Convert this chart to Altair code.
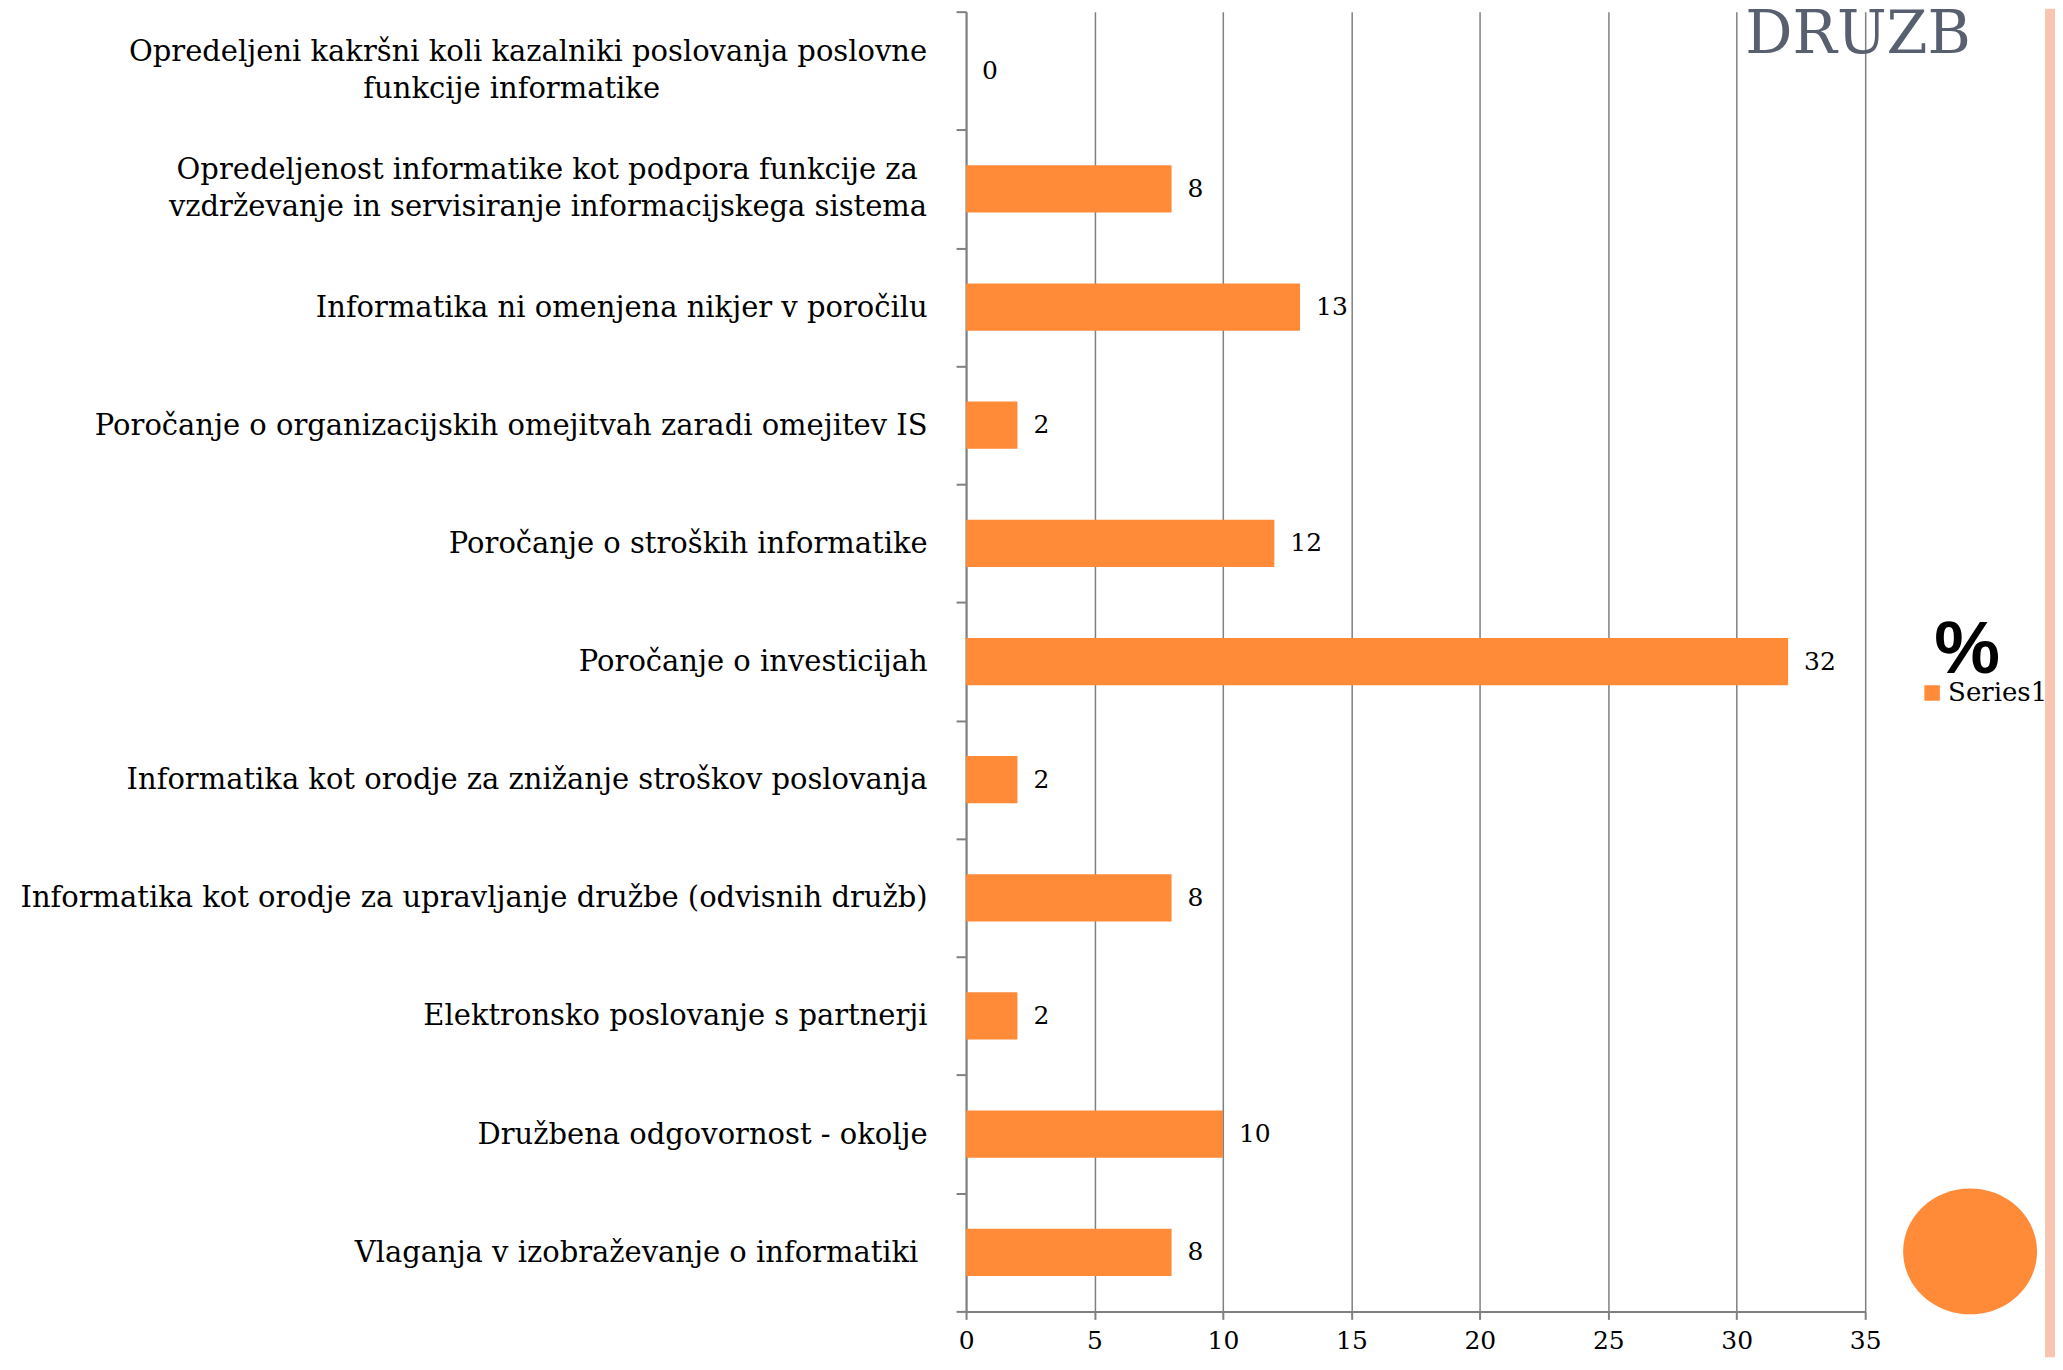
import altair as alt
import pandas as pd

NB = "\u00a0"
ZW = "\u200b"
categories = [
    "Opredeljeni kakršni koli kazalniki poslovanja poslovne|funkcije informatike" + NB * 29 + ZW,
    "Opredeljenost informatike kot podpora funkcije za" + NB + ZW + "|vzdrževanje in servisiranje informacijskega sistema",
    "Informatika ni omenjena nikjer v poročilu",
    "Poročanje o organizacijskih omejitvah zaradi omejitev IS",
    "Poročanje o stroških informatike",
    "Poročanje o investicijah",
    "Informatika kot orodje za znižanje stroškov poslovanja",
    "Informatika kot orodje za upravljanje družbe (odvisnih družb)",
    "Elektronsko poslovanje s partnerji",
    "Družbena odgovornost - okolje",
    "Vlaganja v izobraževanje o informatiki" + NB + ZW,
]
values = [0, 8, 13, 2, 12, 32, 2, 8, 2, 10, 8]
series = ["Series1"] * len(categories)
x_ticks = [0, 5, 10, 15, 20, 25, 30, 35]
heading = "DRUZB"
legend_title = "%"

ORANGE = "#FF8A38"
GRAY = "#808080"
SERIF = "DejaVu Serif"

df = pd.DataFrame({"cat": categories, "val": values, "series": series})
df["multi"] = df["cat"].str.contains("|", regex=False)

y_enc = alt.Y(
    "cat:N",
    sort=categories,
    scale=alt.Scale(paddingInner=0, paddingOuter=0),
    axis=alt.Axis(
        title=None,
        labelExpr="indexof(datum.label, '|') >= 0 ? '' : datum.label",
        labelFont=SERIF,
        labelFontSize=29,
        labelColor="black",
        labelPadding=29,
        labelLimit=0,
        tickBand="extent",
        tickSize=10,
        tickWidth=2,
        tickColor=GRAY,
        domainColor=GRAY,
        domainWidth=2,
        grid=False,
    ),
)
x_enc = alt.X(
    "val:Q",
    scale=alt.Scale(domain=[0, 35], nice=False),
    axis=alt.Axis(
        title=None,
        values=x_ticks,
        labelFont=SERIF,
        labelFontSize=25,
        labelColor="black",
        labelPadding=9,
        labelFlush=False,
        tickSize=8,
        tickWidth=2,
        tickColor=GRAY,
        domainColor=GRAY,
        domainWidth=2,
        grid=True,
        gridColor=GRAY,
        gridWidth=1.5,
    ),
)

bars = alt.Chart(df).mark_bar(height=alt.RelativeBandSize(0.4)).encode(
    y=y_enc,
    x=x_enc,
    color=alt.Color(
        "series:N",
        scale=alt.Scale(range=[ORANGE]),
        legend=alt.Legend(
            title=None,
            orient="none",
            legendX=954,
            legendY=669,
            labelFont=SERIF,
            labelFontSize=26,
            labelColor="black",
            labelOffset=3,
            symbolType="square",
            symbolSize=240,
            symbolStrokeWidth=0,
            padding=0,
        ),
    ),
)

labels = alt.Chart(df).mark_text(
    align="left", baseline="middle", dx=16, font=SERIF, fontSize=25, color="black"
).encode(y=alt.Y("cat:N", sort=categories), x="val:Q", text="val:Q")

multi_labels = alt.Chart(df).transform_filter("datum.multi").mark_text(
    align="right", baseline="middle", dy=-18.5, lineBreak="|", lineHeight=37,
    font=SERIF, fontSize=29, color="black"
).encode(y=alt.Y("cat:N", sort=categories), x=alt.value(-39), text="cat:N")

title_df = pd.DataFrame({"t": [heading]})
title_mark = alt.Chart(title_df).mark_text(
    align="left", baseline="alphabetic", font=SERIF, fontSize=59, color="#58606F"
).encode(x=alt.value(780), y=alt.value(41), text="t:N")

pct_df = pd.DataFrame({"t": [legend_title]})
pct_mark = alt.Chart(pct_df).mark_text(
    align="center", baseline="alphabetic", font="Liberation Sans", fontSize=74,
    fontWeight="bold", color="black"
).encode(x=alt.value(1002), y=alt.value(662), text="t:N")

deco_df = pd.DataFrame({"k": [1]})
circle = alt.Chart(deco_df).mark_point(
    shape="M -1 0 A 1 0.94 0 1 0 1 0 A 1 0.94 0 1 0 -1 0 Z",
    filled=True,
    opacity=1,
    color=ORANGE,
    size=134 * 134,
    strokeWidth=0,
).encode(x=alt.value(1005), y=alt.value(1241))

stripe = alt.Chart(deco_df).mark_rect(color="#F9C4B0").encode(
    x=alt.value(1080), x2=alt.value(1090), y=alt.value(-3), y2=alt.value(1347)
)

chart = (
    alt.layer(bars, labels, multi_labels, title_mark, pct_mark, circle, stripe)
    .properties(
        width=900,
        height=1301,
        autosize=alt.AutoSizeParams(type="none"),
        padding={"left": 959, "top": 3, "right": 190, "bottom": 46},
    )
    .configure_view(strokeWidth=0)
)

chart.save("out.html", embed_options={"renderer": "svg", "actions": False})
